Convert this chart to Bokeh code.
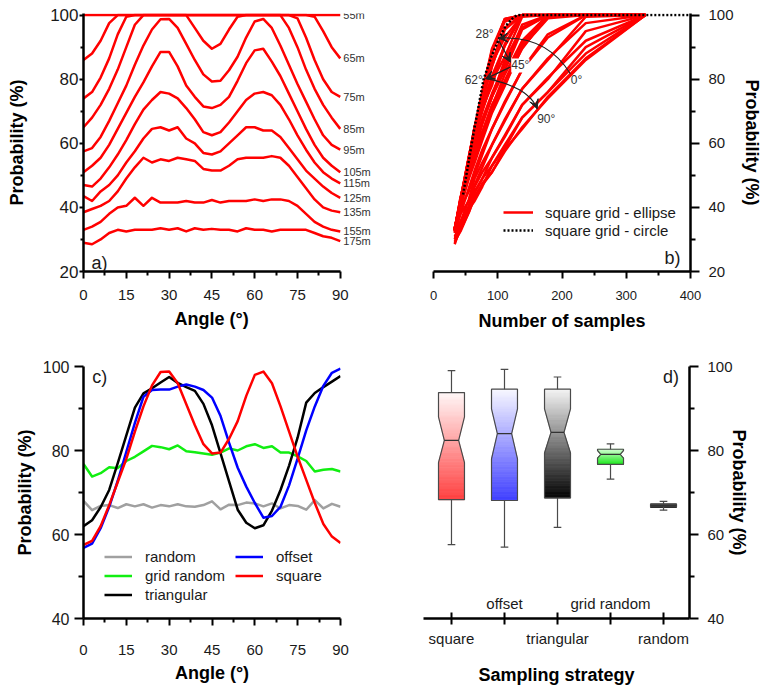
import numpy as np
from bokeh.plotting import figure
from bokeh.layouts import row, column
from bokeh.models import (ColumnDataSource, FixedTicker, Label, Legend, Title,
                          LegendItem, Arrow, VeeHead, Range1d)
from bokeh.core.properties import value
from bokeh.embed import file_html
from bokeh.resources import INLINE

FONT = "Liberation Sans"
TXT = "#1a1a1a"

# ---------------- data ----------------
angles = [0, 3, 6, 9, 12, 15, 18, 21, 24, 27, 30, 33, 36, 39, 42, 45,
          48, 51, 54, 57, 60, 63, 66, 69, 72, 75, 78, 81, 84, 87, 90]

spacing_labels = ["55m", "65m", "75m", "85m", "95m", "105m", "115m",
                  "125m", "135m", "155m", "175m"]
# number of samples needed for each grid spacing
samples = [330, 237, 178, 138, 111, 91, 76, 64, 55, 42, 33]

prob_55m = [100, 100, 100, 100, 100, 100, 100, 100,
            100, 100, 100, 100, 100, 100, 100, 100,
            100, 100, 100, 100, 100, 100, 100, 100,
            100, 100, 100, 100, 100, 100, 100]
prob_65m = [86, 88, 92, 97.5, 100, 100, 100, 100,
            100, 100, 100, 100, 100, 100, 100, 100,
            100, 100, 100, 100, 100, 100, 100, 100,
            100, 100, 100, 99.5, 95, 90, 86.5]
prob_75m = [74, 76, 80.5, 86.5, 94, 99.5, 100, 100,
            100, 100, 100, 100, 100, 100, 100, 100,
            100, 100, 100, 100, 100, 100, 100, 100,
            100, 99, 93, 86, 80, 76, 74.5]
prob_85m = [65, 68, 72, 77, 83, 90, 97, 100,
            100, 100, 100, 100, 100, 96, 92, 89.5,
            91, 95.5, 99.5, 100, 100, 100, 100, 100,
            96, 90, 83, 77, 72, 68, 64.5]
prob_95m = [57.5, 58.5, 62, 67, 72.5, 78, 84.5, 90.5,
            95.5, 98.7, 98.8, 96, 91, 86, 81.5, 79.3,
            79.5, 82.8, 87, 93, 98, 98.8, 96, 90.5,
            84.5, 78.5, 73, 67.5, 62.5, 59.5, 58]
prob_105m = [51, 53, 55.5, 59.5, 64.5, 69.5, 74.5, 79,
             84, 88.5, 88.5, 84, 78, 74.5, 71.5, 71,
             72, 74.5, 79.5, 85, 89, 89.5, 85.5, 81,
             75.5, 70, 64.5, 59.5, 55.5, 53, 51]
prob_115m = [47, 46.5, 49, 52.5, 56.5, 61, 66, 70.5,
             73.5, 76, 75.5, 74, 71, 67.5, 63.5, 62.5,
             63.5, 66.5, 70, 73.5, 75.5, 76, 75, 72,
             67.5, 62.5, 58, 54, 51, 49, 47.5]
prob_125m = [43.5, 42, 45, 47, 50, 54, 57.5, 61.5,
             64.5, 65, 64, 65, 61.5, 60, 57, 56.5,
             57.5, 60, 62.5, 65, 65, 64, 64, 62,
             58.5, 55, 51.5, 49, 46.5, 44.5, 43]
prob_135m = [38.5, 39.5, 40.5, 42, 45, 49, 52.5, 55.5,
             54, 55, 54.5, 55.5, 55, 54.5, 52, 51.5,
             51.5, 53, 55, 55.5, 55.5, 55.5, 56, 55.5,
             53, 49.5, 46, 42.5, 40, 39, 38.5]
prob_155m = [33, 34, 35.5, 38, 40, 40.5, 43, 40.5,
             43, 41.5, 41.5, 41.5, 42, 41.5, 41.5, 42.3,
             41.5, 42, 42, 42, 42.5, 42, 42.5, 42.5,
             42, 40.5, 38, 35.5, 34, 33, 32.5]
prob_175m = [29, 28.5, 30, 32, 33, 32.5, 33, 33,
             33, 33.5, 33, 33.5, 32.5, 33.5, 33, 33.3,
             33, 33, 32.5, 33.5, 33, 33, 32.5, 33,
             33, 33, 33, 32, 31, 30.5, 29.5]

curves = [prob_55m, prob_65m, prob_75m, prob_85m, prob_95m, prob_105m,
          prob_115m, prob_125m, prob_135m, prob_155m, prob_175m]

# circular search area on a square grid
circle_samples = [46, 63, 78, 91, 102, 112, 122, 130, 400]
circle_prob = [44, 64, 80, 87.5, 92.6, 96.5, 98.8, 100, 100]

# probability vs angle for each sampling strategy
random_c = [68, 65.8, 66.8, 67, 66.3, 67.2, 66.7, 67.2,
            66.4, 67, 66.7, 67.2, 66.7, 66.6, 67, 67.9,
            66, 67.1, 67, 67.6, 67.4, 66.7, 67.4, 66.2,
            67, 66.8, 65.9, 68.2, 66.2, 67.3, 66.6]
grid_random_c = [76.8, 73.8, 74.6, 76, 75.8, 77.5, 78.5, 79.8,
                 81.1, 80.8, 80.3, 81.2, 79.8, 79.6, 79.3, 79,
                 79.5, 80.5, 80, 81, 81.5, 80.6, 81, 79.5,
                 79.5, 78.6, 77.5, 75, 75.4, 75.6, 75]
triangular_c = [62, 63.4, 66.5, 70.6, 77, 83.6, 90.2, 93.6,
                94.8, 96.2, 97.5, 96.1, 95.1, 94.2, 91.1, 86,
                79.3, 72.6, 65.9, 62.8, 61.5, 62.2, 65.7, 70.6,
                76.4, 83.1, 91.4, 93.7, 95.1, 96.4, 97.7]
offset_c = [56.8, 57.8, 61.5, 66.6, 72.8, 79.7, 86.6, 92.8,
            94.4, 94.5, 94.5, 95.2, 95.7, 95.2, 94.4, 92.6,
            88.2, 81.8, 75.9, 71.4, 67.5, 64, 64.4, 66.6,
            71.7, 78.1, 84.8, 90.5, 95.4, 98.5, 99.5]
square_c = prob_95m

# notched box statistics per strategy
strategies = ["square", "offset", "triangular", "grid random", "random"]
box_pos = [1, 2, 3, 4, 5]
whisker_lo = [57.6, 57.0, 61.7, 73.2, 65.8]
q1 = [68.3, 68.1, 68.7, 76.7, 66.6]
notch_lo = [77.1, 78.0, 79.4, 78.2, 66.7]
median = [82.4, 84.0, 84.3, 79.1, 66.9]
notch_hi = [88.0, 89.9, 89.9, 80.0, 67.1]
q3 = [93.8, 94.6, 94.6, 80.3, 67.2]
whisker_hi = [99.0, 99.3, 97.5, 81.6, 67.9]

tick_a_x = [0, 15, 30, 45, 60, 75, 90]
tick_a_x_minor = [7.5, 22.5, 37.5, 52.5, 67.5, 82.5]


# ---------------- helpers ----------------
def base_fig(**kw):
    f = figure(output_backend="svg", toolbar_location=None, **kw)
    f.outline_line_color = None
    f.grid.visible = False
    f.background_fill_color = "white"
    f.border_fill_color = "white"
    return f


def style_axis(ax, size, tick_out, minor_out, standoff, title_standoff,
               tick_in=0):
    ax.axis_line_width = 2.5
    ax.axis_line_color = "black"
    ax.major_tick_line_width = 2
    ax.minor_tick_line_width = 2
    ax.major_tick_line_color = "black"
    ax.minor_tick_line_color = "black"
    ax.major_tick_in = tick_in
    ax.major_tick_out = tick_out
    ax.minor_tick_in = 0
    ax.minor_tick_out = minor_out
    ax.major_label_text_font = FONT
    ax.major_label_text_font_size = f"{size}px"
    ax.major_label_text_color = TXT
    ax.major_label_standoff = standoff
    ax.axis_label_text_font = FONT
    ax.axis_label_text_font_style = "bold"
    ax.axis_label_text_font_size = "18px"
    ax.axis_label_text_color = "black"
    ax.axis_label_standoff = title_standoff


def panel_label(f, x, y, text, align="left"):
    f.add_layout(Label(x=x, y=y, text=text, text_font=FONT, text_font_size="18px",
                       text_color=TXT, text_align=align, text_baseline="middle"))


# ---------------- a) probability vs angle per spacing ----------------
# the frame runs past 90° so the spacing labels sit beside the curve ends;
# the x axis itself stops at 90°
fa = base_fig(width=380, height=340, x_range=Range1d(0, 102), y_range=Range1d(20, 100.5),
              min_border_left=83, min_border_right=6, min_border_top=13,
              min_border_bottom=69)
fa.multi_line(xs=[angles] * len(curves), ys=curves, line_color="red",
              line_width=2.5, line_join="round")
end_src = ColumnDataSource(dict(x=[angles[-1]] * len(curves),
                                y=[c[-1] for c in curves], t=spacing_labels))
fa.text(x="x", y="y", text="t", source=end_src, x_offset=3,
        text_font=value(FONT), text_font_size="11px",
        text_color="#333333", text_baseline="middle")
fa.xaxis.bounds = (0, 90)
fa.xaxis.ticker = FixedTicker(ticks=tick_a_x, minor_ticks=tick_a_x_minor)
fa.yaxis.ticker = FixedTicker(ticks=[20, 40, 60, 80, 100], minor_ticks=[30, 50, 70, 90])
fa.yaxis.axis_label = "Probability (%)"
style_axis(fa.xaxis[0], 15, 7, 4, 11, 6)
style_axis(fa.yaxis[0], 17, 4, 3, 1, 20)
panel_label(fa, 2.8, 22.8, "a)")
# x title centred under the 0–90° span rather than the wider frame
fa.add_layout(Title(text="Angle (°)", align="left", offset=91, standoff=8,
                    text_font=FONT, text_font_size="18px", text_font_style="bold",
                    text_color="black"), "below")

# ---------------- b) probability vs number of samples ----------------
fb = base_fig(width=384, height=340, x_range=Range1d(0, 400), y_range=Range1d(20, 100.5),
              y_axis_location="right",
              min_border_left=53, min_border_right=74, min_border_top=13,
              min_border_bottom=69)
b_xs = [samples for _ in angles]
b_ys = [[c[j] for c in curves] for j in range(len(angles))]
r_ell = fb.multi_line(xs=b_xs, ys=b_ys, line_color="red", line_width=2.5,
                      line_join="round")
r_circ = fb.line(circle_samples, circle_prob, line_color="black", line_width=2.5,
                 line_dash="2 2")

ann_col = "#222222"
# 0° -> 28° arc and 62° -> 90° arc
arc_src = dict(x0=[213, 83.5], y0=[81.7, 80.1], x1=[101.6, 161.4], y1=[92.8, 70.8],
               cx=[175.9, 148.4], cy=[93.75, 77.55])
fb.quadratic(x0="x0", y0="y0", x1="x1", y1="y1", cx="cx", cy="cy",
             source=ColumnDataSource(arc_src), line_color=ann_col, line_width=1.2)
for i in range(2):
    ex, ey = arc_src["x1"][i], arc_src["y1"][i]
    sx = ex - 0.05 * (ex - arc_src["cx"][i])
    sy = ey - 0.05 * (ey - arc_src["cy"][i])
    fb.add_layout(Arrow(end=VeeHead(size=9, fill_color=ann_col, line_color=ann_col),
                        x_start=sx, y_start=sy, x_end=ex, y_end=ey,
                        line_color=ann_col, line_width=1.2))
# 28° -> 45° and 45° -> 62°
for (x0, y0, x1, y1) in [(101.6, 92.1, 119.8, 85.3), (119.8, 83.8, 81.0, 80.1)]:
    fb.add_layout(Arrow(end=VeeHead(size=9, fill_color=ann_col, line_color=ann_col),
                        x_start=x0, y_start=y0, x_end=x1, y_end=y1,
                        line_color=ann_col, line_width=1.2))
for (x, y, t, al, bg) in [(93.6, 94.0, "28°", "right", None),
                          (121.0, 84.3, "45°", "left", "white"),
                          (76.8, 79.6, "62°", "right", None),
                          (213.6, 79.6, "0°", "left", None),
                          (161.4, 67.6, "90°", "left", None)]:
    fb.add_layout(Label(x=x, y=y, text=t, text_font=FONT, text_font_size="12px",
                        text_color="#333333", text_align=al, text_baseline="middle",
                        background_fill_color=bg))

leg_b = Legend(items=[LegendItem(label="square grid - ellipse", renderers=[r_ell]),
                      LegendItem(label="square grid - circle", renderers=[r_circ])],
               location=(70, 32), label_text_font=FONT, label_text_font_size="15px",
               label_text_color=TXT, glyph_width=30, glyph_height=18, label_height=18,
               label_standoff=12, spacing=0, padding=0, margin=0,
               border_line_alpha=0, background_fill_alpha=0)
fb.add_layout(leg_b, "center")
fb.xaxis.ticker = FixedTicker(ticks=[0, 100, 200, 300, 400], minor_ticks=[50, 150, 250, 350])
fb.yaxis.ticker = FixedTicker(ticks=[20, 40, 60, 80, 100], minor_ticks=[30, 50, 70, 90])
fb.xaxis.axis_label = "Number of samples"
fb.yaxis.axis_label = "Probability (%)"
style_axis(fb.xaxis[0], 13, 7, 4, 12, 8)
style_axis(fb.yaxis[0], 15, 9, 5, 9, 5)
panel_label(fb, 384.5, 24.1, "b)", align="right")

# ---------------- c) probability vs angle per strategy ----------------
fc = base_fig(width=370, height=347, x_range=Range1d(0, 90), y_range=Range1d(40, 100),
              min_border_left=83, min_border_right=30, min_border_top=26,
              min_border_bottom=65)
r_rand = fc.line(angles, random_c, line_color="#a0a0a0", line_width=2.5, line_join="round")
r_grid = fc.line(angles, grid_random_c, line_color="#11ee11", line_width=2.5, line_join="round")
r_tri = fc.line(angles, triangular_c, line_color="black", line_width=2.5, line_join="round")
r_off = fc.line(angles, offset_c, line_color="#0000ff", line_width=2.5, line_join="round")
r_sq = fc.line(angles, square_c, line_color="#ff0000", line_width=2.5, line_join="round")


def c_legend(items, loc):
    return Legend(items=items, location=loc, label_text_font=FONT,
                  label_text_font_size="15px", label_text_color=TXT, glyph_width=28,
                  glyph_height=19, label_height=19, label_standoff=13, spacing=0,
                  padding=0, margin=0, border_line_alpha=0, background_fill_alpha=0)


fc.add_layout(c_legend([LegendItem(label="random", renderers=[r_rand]),
                        LegendItem(label="grid random", renderers=[r_grid]),
                        LegendItem(label="triangular", renderers=[r_tri])], (21, 14.5)),
              "center")
fc.add_layout(c_legend([LegendItem(label="offset", renderers=[r_off]),
                        LegendItem(label="square", renderers=[r_sq])], (152, 33.5)),
              "center")
fc.xaxis.ticker = FixedTicker(ticks=tick_a_x, minor_ticks=tick_a_x_minor)
fc.yaxis.ticker = FixedTicker(ticks=[40, 60, 80, 100], minor_ticks=[50, 70, 90])
fc.xaxis.axis_label = "Angle (°)"
fc.yaxis.axis_label = "Probability (%)"
style_axis(fc.xaxis[0], 15, 7, 4, 19, 5)
style_axis(fc.yaxis[0], 16, 9, 5, 5, 5)
panel_label(fc, 3.1, 97.5, "c)")

# ---------------- d) notched boxes per strategy ----------------
fd = base_fig(width=394, height=347, x_range=Range1d(0.472, 5.49), y_range=Range1d(40, 100),
              y_axis_location="right",
              min_border_left=53, min_border_right=75, min_border_top=26,
              min_border_bottom=65)
box_half = 0.245
cap_half = 0.072
notch_ratio = [0.55, 0.55, 0.5, 0.75, 1.0]
top_rgb = [(255, 247, 247), (247, 247, 255), (243, 243, 243), (205, 255, 205), (90, 90, 90)]
bottom_rgb = [(255, 62, 62), (62, 62, 255), (0, 0, 0), (24, 232, 24), (0, 0, 0)]


def hexc(rgb):
    return "#%02x%02x%02x" % tuple(int(round(c)) for c in rgb)


sx_, sy_, sc_ = [], [], []
ox_, oy_ = [], []
for i, xc in enumerate(box_pos):
    yk = [q1[i], notch_lo[i], median[i], notch_hi[i], q3[i]]
    wn = box_half * notch_ratio[i]
    wk = [box_half, box_half, wn, box_half, box_half]
    edges = np.union1d(np.linspace(q1[i], q3[i], 90), yk[1:4])
    for y0, y1 in zip(edges[:-1], edges[1:]):
        w0, w1 = np.interp([y0, y1], yk, wk)
        sx_.append([xc - w0, xc + w0, xc + w1, xc - w1])
        sy_.append([y0, y0, y1, y1])
        t = ((y0 + y1) / 2 - q1[i]) / (q3[i] - q1[i])
        sc_.append(hexc([b + (tp - b) * t for b, tp in zip(bottom_rgb[i], top_rgb[i])]))
    ox_.append([xc - box_half, xc - box_half, xc - wn, xc - box_half, xc - box_half,
                xc + box_half, xc + box_half, xc + wn, xc + box_half, xc + box_half])
    oy_.append([q1[i], notch_lo[i], median[i], notch_hi[i], q3[i],
                q3[i], notch_hi[i], median[i], notch_lo[i], q1[i]])

fd.patches(xs="xs", ys="ys", fill_color="c", line_color="c", line_width=0.8,
           source=ColumnDataSource(dict(xs=sx_, ys=sy_, c=sc_)))
box_line = "#4a4a4a"
# whiskers and caps
fd.segment(x0=box_pos, y0=q3, x1=box_pos, y1=whisker_hi, line_color=box_line, line_width=1.2)
fd.segment(x0=box_pos, y0=q1, x1=box_pos, y1=whisker_lo, line_color=box_line, line_width=1.2)
fd.segment(x0=[x - cap_half for x in box_pos], y0=whisker_hi,
           x1=[x + cap_half for x in box_pos], y1=whisker_hi, line_color=box_line, line_width=1.2)
fd.segment(x0=[x - cap_half for x in box_pos], y0=whisker_lo,
           x1=[x + cap_half for x in box_pos], y1=whisker_lo, line_color=box_line, line_width=1.2)
fd.patches(xs=ox_, ys=oy_, fill_alpha=0, line_color=box_line, line_width=1.2)
fd.segment(x0=[x - box_half * r for x, r in zip(box_pos, notch_ratio)], y0=median,
           x1=[x + box_half * r for x, r in zip(box_pos, notch_ratio)], y1=median,
           line_color="#333333", line_width=1.3)

fd.xaxis.ticker = FixedTicker(ticks=box_pos)
fd.xaxis.major_label_overrides = {p: (s if i % 2 == 0 else "")
                                  for i, (p, s) in enumerate(zip(box_pos, strategies))}
for i, (p, s) in enumerate(zip(box_pos, strategies)):
    if i % 2 == 1:
        fd.add_layout(Label(x=p, y=43.6, text=s, text_font=FONT, text_font_size="15px",
                            text_color=TXT, text_align="center", text_baseline="middle"))
fd.yaxis.ticker = FixedTicker(ticks=[40, 60, 80, 100], minor_ticks=[50, 70, 90])
fd.xaxis.axis_label = "Sampling strategy"
fd.yaxis.axis_label = "Probability (%)"
style_axis(fd.xaxis[0], 15, 6, 0, 5, 15, tick_in=6)
style_axis(fd.yaxis[0], 15, 9, 5, 9, -7)
panel_label(fd, 5.29, 97.4, "d)", align="right")

layout = column(row(fa, fb, spacing=0), row(fc, fd, spacing=0), spacing=0)
open("out.html", "w").write(file_html(layout, INLINE))
